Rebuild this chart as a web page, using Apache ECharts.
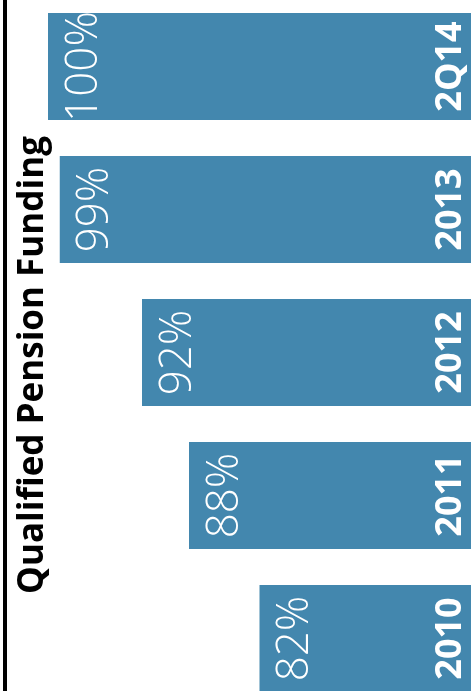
<!DOCTYPE html>
<html>
<head>
<meta charset="utf-8">
<script src="https://cdn.jsdelivr.net/npm/echarts@6/dist/echarts.min.js"></script>
<style>
html,body{margin:0;padding:0;background:#fff;}
#chart{width:471px;height:691px;}
</style>
</head>
<body>
<div id="chart"></div>
<script>
const categories = ['2Q14', '2013', '2012', '2011', '2010'];
const fundingValues = [100, 99, 92, 88, 82];
const titleText = 'Qualified Pension Funding';

const barColor = '#4387ae';
const chart = echarts.init(document.getElementById('chart'), null, {renderer: 'canvas'});
chart.setOption({
  animation: false,
  backgroundColor: '#ffffff',
  grid: {left: 48, right: 0, top: -5, bottom: -19, outerBoundsMode: 'none', containLabel: false},
  xAxis: {type: 'value', inverse: true, min: 64, max: 100, show: false},
  yAxis: {type: 'category', inverse: true, data: categories, show: false},
  graphic: [
    {type: 'rect', shape: {x: 3, y: 0, width: 4, height: 691}, style: {fill: '#000'}},
    {type: 'text', x: 33, y: 365, rotation: Math.PI / 2,
     style: {text: titleText, fill: '#000', font: 'bold 35px "Open Sans"', align: 'center', verticalAlign: 'middle'}}
  ],
  series: [
    {
      type: 'bar', data: fundingValues, barWidth: 107,
      itemStyle: {color: barColor},
      label: {
        show: true, position: 'insideLeft', distance: 14, rotate: 90,
        align: 'center', verticalAlign: 'top',
        formatter: '{c}%', color: '#fff',
        fontFamily: 'Open Sans', fontWeight: 300, fontSize: 44
      }
    },
    {
      type: 'bar', data: fundingValues, barWidth: 107, barGap: '-100%',
      itemStyle: {color: 'rgba(0,0,0,0)'},
      label: {
        show: true, position: 'insideRight', distance: 2, rotate: 90,
        align: 'center', verticalAlign: 'bottom',
        formatter: '{b}', color: '#fff',
        fontFamily: 'Open Sans', fontWeight: 'bold', fontSize: 36
      }
    }
  ]
});
</script>
</body>
</html>
